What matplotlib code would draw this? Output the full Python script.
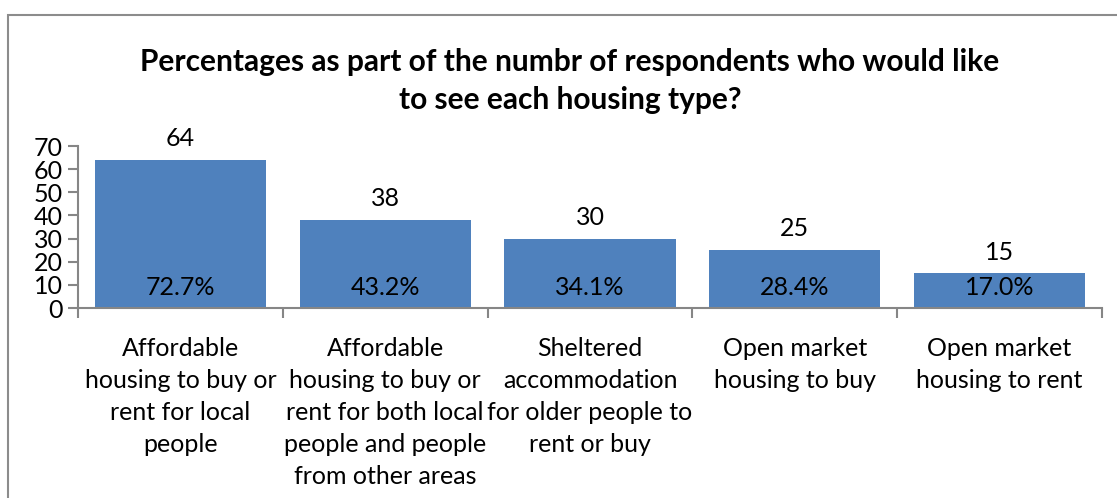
import matplotlib
matplotlib.use("Agg")
import matplotlib.pyplot as plt
from matplotlib.patches import Rectangle

# data
categories = [
    "Affordable\nhousing to buy or\nrent for local\npeople",
    "Affordable\nhousing to buy or\nrent for both local\npeople and people\nfrom other areas",
    "Sheltered\naccommodation\nfor older people to\nrent or buy",
    "Open market\nhousing to buy",
    "Open market\nhousing to rent",
]
counts = [64, 38, 30, 25, 15]
percents = [72.7, 43.2, 34.1, 28.4, 17.0]

title = "Percentages as part of the numbr of respondents who would like\nto see each housing type?"

plt.rcParams['font.family'] = ['Lato', 'DejaVu Sans']

W, H = 1117, 498
fig = plt.figure(figsize=(W / 100, H / 100), dpi=100)

# chart area border (Excel style), partly cut off on right/bottom
fig.patches.append(Rectangle((8 / W, -0.1), 1.2, 1 - 15 / H + 0.1,
                             transform=fig.transFigure, fill=False,
                             edgecolor="#8c8c8c", linewidth=1.5))

ax = fig.add_axes([78 / W, (H - 308) / H, (1102 - 78) / W, (308 - 146) / H])

x = list(range(len(categories)))
bars = ax.bar(x, counts, width=0.835, color="#4F81BD")

for xi, c, p in zip(x, counts, percents):
    ax.text(xi, c + 4.2, str(c), ha="center", va="bottom", fontsize=18)
    ax.text(xi, 9, "%.1f%%" % p, ha="center", va="center", fontsize=18)

ax.set_xlim(-0.5, len(categories) - 0.5)
ax.set_ylim(0, 70)
ax.set_yticks(range(0, 71, 10))
ax.set_xticks(x)
ax.set_xticklabels(categories, fontsize=18, linespacing=1.47)
ax.set_xticks([i - 0.5 for i in range(len(categories) + 1)], minor=True)
ax.tick_params(axis="x", which="major", length=0, pad=21)
ax.tick_params(axis="x", which="minor", length=7, width=1.5, color="#868686", direction="out")
ax.tick_params(axis="y", length=7, width=1.5, color="#868686", labelsize=18, pad=4)

for s in ["top", "right"]:
    ax.spines[s].set_visible(False)
for s in ["left", "bottom"]:
    ax.spines[s].set_color("#868686")
    ax.spines[s].set_linewidth(1.5)

fig.text(570 / W, 1 - 81 / H, title, ha="center", va="center",
         fontsize=21.5, fontweight="bold", linespacing=1.41)

fig.savefig("out.png", dpi=100)
